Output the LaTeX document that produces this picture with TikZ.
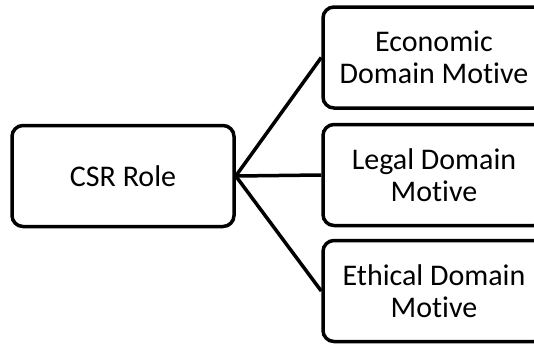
\documentclass[tikz,border=0pt]{standalone}
\usepackage{fontspec}
\setmainfont{Carlito}[Ligatures=NoCommon]
\tikzset{
  rolebox/.style={draw, line width=3.5pt, rounded corners=11pt, minimum width=222pt, minimum height=101pt,
    align=center, inner sep=0pt, font=\fontsize{30}{32}\selectfont},
  link/.style={line width=3.5pt}
}
\begin{document}
\begin{tikzpicture}[x=1pt,y=-1pt]
    \useasboundingbox (0,0) rectangle (534,343);
    \clip (0,0) rectangle (534,343);
    \node[rolebox] (csr) at (123,176) {CSR Role};
    \node[rolebox] (econ) at (434,57.5) {Economic\\Domain Motive};
    \node[rolebox] (legal) at (434,175) {Legal Domain\\Motive};
    \node[rolebox] (ethic) at (434,291) {Ethical Domain\\Motive};
    \draw[link] (csr.east) -- (econ.west);
    \draw[link] (csr.east) -- (legal.west);
    \draw[link] (csr.east) -- (ethic.west);
\end{tikzpicture}
\end{document}
